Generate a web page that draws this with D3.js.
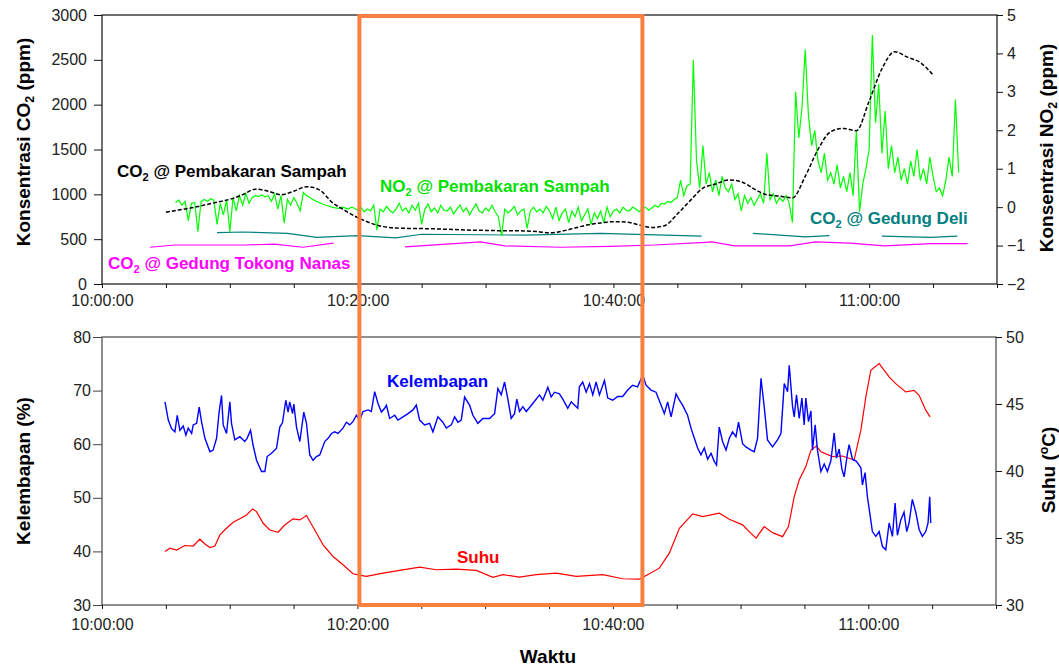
<!DOCTYPE html>
<html><head><meta charset="utf-8">
<script src="https://cdn.jsdelivr.net/npm/d3@7/dist/d3.min.js"></script>
<style>body{margin:0;background:#fff}text{font-family:"Liberation Sans",Arial,sans-serif}</style>
</head><body>
<svg id="c" width="1059" height="668"></svg>
<script>
// ---------------- DATA ----------------
const timeTicks = ["10:00:00", "10:20:00", "10:40:00", "11:00:00"];
const timeDomain = ["10:00:00", "11:10:00"];
const highlight = ["10:20:08", "10:42:16"];
const co2Ticks = [0, 500, 1000, 1500, 2000, 2500, 3000];
const no2Ticks = [-2, -1, 0, 1, 2, 3, 4, 5];
const humTicks = [30, 40, 50, 60, 70, 80];
const tempTicks = [30, 35, 40, 45, 50];

// CO2 @ Pembakaran Sampah (ppm), one reading per minute from 10:05
const co2BurnStart = 5, co2BurnStep = 1;
const co2Burn = [800, 825, 850, 880, 912, 945, 995, 1058, 1035, 995, 1035, 1085, 1050, 910, 820, 740,
  680, 640, 625, 620, 618, 615, 610, 605, 600, 598, 595, 595, 592, 585, 570, 590, 625, 660, 680, 695,
  690, 660, 630, 650, 780, 930, 1070, 1115, 1160, 1140, 1060, 995, 980, 960, 1200, 1500, 1700, 1735,
  1710, 2040, 2400, 2590, 2530, 2470, 2330];

// NO2 @ Pembakaran Sampah (ppm), every 15 s from 10:05:45
const no2Start = 5.75, no2Step = 0.25;
const no2Burn = [0.12,
  0.18, 0.05, 0.15, -0.35, 0.1, 0.12, -0.64, 0.15, 0.2, 0.15, 0.22, 0.18, -0.45, 0.1, -0.2, 0.2,
  -0.64, 0.25, -0.1, 0.3, 0.05, 0.36, 0.1, 0.25, 0.3, 0.28, 0.32, 0.27, 0.3, 0.15, 0.35, -0.05,
  0.3, -0.42, 0.2, 0.05, 0.25, 0.1, -0.1, 0.38, 0.3, 0.25, 0.2, 0.15, 0.12, 0.08, 0.05, 0.03,
  0.0, -0.02, -0.03, 0.0, -0.02, -0.05, 0.0, -0.03, -0.08, 0.0, -0.12, -0.05, -0.1, 0.05, -0.6, -0.05,
  -0.12, 0.02, -0.08, -0.15, -0.05, 0.1, -0.1, -0.02, -0.15, 0.05, -0.08, 0.1, -0.45, -0.05, 0.08, -0.12,
  -0.02, -0.15, 0.05, -0.08, -0.1, 0.0, -0.18, -0.05, 0.05, -0.12, -0.02, -0.2, -0.05, 0.08, -0.1, -0.15,
  -0.02, -0.1, 0.05, -0.12, -0.25, -0.75, -0.05, -0.15, -0.08, 0.02, -0.2, -0.1, -0.05, -0.55, -0.1, 0.0,
  -0.12, -0.05, -0.15, 0.02, -0.1, -0.3, 0.0, -0.35, -0.15, -0.05, -0.4, -0.1, -0.25, 0.0, -0.35, -0.2,
  -0.05, -0.45, -0.15, -0.3, -0.1, -0.4, 0.0, -0.25, -0.1, -0.05, -0.15, 0.0, -0.08, -0.1, 0.0, -0.05,
  -0.12, -0.05, 0.0, -0.08, -0.02, 0.05, 0.0, 0.1, 0.08, 0.15, 0.12, 0.2, 0.25, 0.7, 0.3, 0.55,
  0.6, 3.83, 1.2, 0.5, 1.6, 0.6, 0.9, 0.4, 0.7, 0.3, 0.8, 0.5, 0.4, 0.6, 0.2, 0.35,
  -0.1, 0.3, 0.1, 0.25, 0.05, 0.2, 0.35, 0.1, 1.4, 0.2, 0.35, 0.1, 0.25, 0.15, 0.3, 0.1,
  -0.4, 3.0, 1.8, 2.6, 4.1, 2.4, 1.6, 2.0, 1.2, 0.9, 1.4, 0.7, 0.9, 0.6, 1.1, 0.5,
  0.8, 0.4, 0.9, 0.3, 2.0, -0.12, 0.6, 1.0, 1.5, 4.48, 2.2, 3.2, 1.4, 2.5, 1.0, 1.6,
  0.9, 1.3, 0.7, 1.0, 0.6, 1.2, 0.8, 1.5, 0.7, 1.0, 0.6, 1.3, 0.8, 0.4, 0.5, 0.3,
  0.7, 1.3, 0.8, 2.8, 0.9];

// CO2 @ Gedung Deli (ppm): [minute after 10:00, ppm], null = gap
const co2Deli = [[9.0, 573], [11.0, 580], [14.5, 565], [16.8, 521], [20.0, 539], [23.0, 515], [25.0, 555],
  [33.0, 545], [39.0, 565], [46.9, 535], null, [50.9, 565], [55.0, 525], [56.9, 540], null,
  [61.0, 535], [64.8, 520], [66.9, 535]];

// CO2 @ Gedung Tokong Nanas (ppm)
const co2Nanas = [[3.75, 410], [5.7, 435], [11.2, 435], [13.5, 445], [15.7, 410], [18.1, 455], null,
  [23.7, 415], [29.6, 470], [31.5, 425], [35.8, 410], [39.7, 420], [43.2, 435], [47.2, 465], [47.7, 470],
  [49.5, 425], [53.8, 425], [55.8, 470], [58.5, 455], [61.2, 425], [64.8, 450], [67.7, 450]];

// Kelembapan (%): [minute after 10:00, %]
const humidity = [[4.93,67.9],[5.19,64.5],[5.45,62.9],[5.71,62.3],[5.89,65.4],[6.10,62.6],[6.36,63.4],[6.57,61.7],[6.75,63.0],[7.02,62.0],[7.14,63.6],[7.41,63.9],[7.61,66.9],[7.80,64.1],[8.06,61.1],[8.45,58.6],[8.70,58.9],[8.97,61.1],[9.17,66.0],[9.36,69.1],[9.49,63.6],[9.75,62.0],[10.01,67.9],[10.14,63.9],[10.40,60.8],[10.79,61.4],[11.18,60.5],[11.36,61.1],[11.63,62.6],[11.83,59.8],[12.10,57.0],[12.49,54.9],[12.75,54.9],[12.93,57.7],[13.27,58.3],[13.66,59.2],[13.92,63.2],[14.13,64.0],[14.39,68.2],[14.57,66.0],[14.70,67.9],[14.92,65.7],[15.02,67.5],[15.23,63.2],[15.49,60.5],[15.80,66.0],[16.01,63.9],[16.27,58.0],[16.53,57.0],[16.79,57.7],[17.05,58.0],[17.44,60.5],[17.70,61.1],[17.97,62.0],[18.22,62.3],[18.48,62.0],[18.87,63.0],[19.14,64.1],[19.40,63.6],[19.65,64.2],[19.92,65.4],[20.18,64.5],[20.44,66.1],[20.83,66.4],[21.09,66.1],[21.35,69.8],[21.61,67.6],[21.88,66.0],[22.13,66.7],[22.27,67.3],[22.52,64.8],[22.92,65.4],[23.17,64.5],[23.57,65.1],[23.96,65.7],[24.35,66.4],[24.61,67.3],[24.87,64.5],[25.26,63.6],[25.65,63.9],[25.91,62.3],[26.30,65.1],[26.69,64.1],[26.96,63.0],[27.35,63.6],[27.61,65.1],[27.87,64.1],[28.13,64.5],[28.39,68.8],[28.78,67.3],[29.04,65.4],[29.43,63.9],[29.82,64.8],[30.35,64.8],[30.74,65.7],[31.00,70.4],[31.26,69.2],[31.52,71.6],[31.78,68.4],[32.04,64.8],[32.30,65.7],[32.48,68.4],[32.69,66.1],[32.95,67.0],[33.22,66.1],[33.73,67.6],[34.26,69.2],[34.52,68.2],[34.91,70.6],[35.17,68.8],[35.43,69.7],[35.82,69.4],[36.08,68.4],[36.47,66.7],[36.74,67.9],[36.99,67.3],[37.25,66.7],[37.38,70.7],[37.64,71.6],[37.91,69.7],[38.17,71.3],[38.43,69.2],[38.69,71.6],[38.95,69.2],[39.34,71.9],[39.60,68.6],[39.99,68.2],[40.38,68.9],[40.77,68.9],[41.16,70.1],[41.55,71.0],[41.94,70.7],[42.34,72.9],[42.60,71.0],[42.99,70.1],[43.38,69.7],[43.77,67.3],[44.03,65.7],[44.29,67.9],[44.56,65.1],[44.95,69.4],[45.21,68.2],[45.46,67.3],[45.85,65.4],[46.12,63.0],[46.38,61.1],[46.64,59.3],[46.90,58.0],[47.16,59.3],[47.42,57.2],[47.69,58.3],[47.94,56.8],[48.12,56.1],[48.33,63.2],[48.59,60.5],[48.86,58.9],[49.12,61.1],[49.37,62.3],[49.64,61.4],[49.84,64.1],[50.16,60.1],[50.42,59.5],[50.81,58.9],[51.07,58.6],[51.33,61.1],[51.60,72.3],[51.85,67.0],[52.11,60.8],[52.50,59.5],[52.89,60.8],[53.16,62.0],[53.42,71.3],[53.68,69.8],[53.81,74.7],[54.07,67.0],[54.20,65.1],[54.38,69.2],[54.59,64.8],[54.80,68.6],[54.98,63.6],[55.11,68.6],[55.32,64.2],[55.51,66.2],[55.63,58.9],[55.84,63.6],[56.02,58.9],[56.29,54.9],[56.55,56.3],[56.80,54.9],[57.07,56.9],[57.33,62.1],[57.51,57.4],[57.72,59.1],[57.93,55.4],[58.11,53.9],[58.37,58.3],[58.50,59.9],[58.76,57.2],[59.07,56.8],[59.42,55.6],[59.54,52.4],[59.75,54.7],[59.93,50.2],[60.12,47.1],[60.32,43.7],[60.59,42.8],[60.85,43.7],[61.11,40.9],[61.37,40.3],[61.63,45.3],[61.89,42.8],[62.10,49.0],[62.28,43.0],[62.54,45.8],[62.80,47.3],[63.01,43.7],[63.19,45.3],[63.45,49.7],[63.72,47.3],[63.98,44.1],[64.23,42.8],[64.50,43.7],[64.68,45.3],[64.81,50.2],[64.89,45.3]];

// Suhu (°C): [minute after 10:00, °C]
const temperature = [[4.93,34.0],[5.32,34.24],[5.84,34.1],[6.49,34.44],[7.14,34.4],[7.66,34.91],[8.06,34.55],[8.45,34.29],[8.84,34.4],[9.23,35.23],[9.75,35.73],[10.27,36.18],[10.79,36.43],[11.32,36.72],[11.79,37.17],[12.10,36.97],[12.62,36.1],[13.14,35.6],[13.79,35.43],[14.31,35.97],[14.96,36.43],[15.49,36.35],[16.01,36.68],[16.66,35.6],[17.31,34.49],[18.09,33.62],[18.87,33.0],[19.65,32.33],[20.05,32.25],[20.70,32.13],[22.00,32.38],[23.31,32.58],[24.87,32.83],[26.18,32.63],[27.74,32.68],[29.31,32.58],[30.60,32.06],[31.39,32.26],[32.69,32.08],[34.00,32.26],[35.56,32.38],[37.13,32.13],[39.21,32.26],[40.77,31.96],[42.08,31.93],[42.86,32.33],[43.64,32.75],[44.42,33.87],[45.21,35.73],[46.25,36.8],[47.03,36.6],[48.33,36.85],[49.12,36.4],[50.16,35.98],[50.68,35.48],[51.21,34.99],[51.85,35.85],[52.50,35.4],[53.29,35.1],[53.75,35.85],[54.20,38.09],[54.59,39.33],[55.11,40.33],[55.51,41.56],[55.94,41.86],[56.29,41.44],[57.20,41.07],[57.98,41.12],[58.89,40.82],[59.42,43.05],[59.81,45.53],[60.20,47.52],[60.85,48.02],[61.63,47.02],[62.15,46.52],[62.93,45.9],[63.58,46.02],[63.98,45.65],[64.50,44.54],[64.84,44.04]];

// ---------------- CHART ----------------
const svg = d3.select("#c");
const parse = d3.timeParse("%H:%M:%S");
const fmt = d3.timeFormat("%H:%M:%S");
const t0 = parse(timeDomain[0]);
const tm = m => new Date(t0.getTime() + m * 60000);

const pTop = {l: 102, r: 997, t: 15, b: 284};
const pBot = {l: 102, r: 996, t: 337, b: 605};

const xTop = d3.scaleTime().domain(timeDomain.map(parse)).range([pTop.l, pTop.r]);
const xBot = d3.scaleTime().domain(timeDomain.map(parse)).range([pBot.l, pBot.r]);
const yCO2 = d3.scaleLinear().domain([0, 3000]).range([pTop.b, pTop.t]);
const yNO2 = d3.scaleLinear().domain([-2, 5]).range([pTop.b, pTop.t]);
const yHum = d3.scaleLinear().domain([30, 80]).range([pBot.b, pBot.t]);
const yTmp = d3.scaleLinear().domain([30, 50]).range([pBot.b, pBot.t]);

const minorTicks = d3.timeMinute.every(5).range(parse(timeDomain[0]), new Date(parse(timeDomain[1]).getTime() + 1000));
const xFmt = d => timeTicks.includes(fmt(d)) ? fmt(d) : "";
const intFmt = d3.format("d");

function styleAxis(g, col) {
  g.select(".domain").remove();
  g.selectAll("line").attr("stroke", col);
  g.selectAll("text").attr("fill", "#222").style("font-size", "16px");
}

// frames
svg.append("rect").attr("x", pTop.l).attr("y", pTop.t).attr("width", pTop.r - pTop.l).attr("height", pTop.b - pTop.t)
  .attr("fill", "none").attr("stroke", "#111").attr("stroke-width", 1.2);
svg.append("rect").attr("x", pBot.l).attr("y", pBot.t).attr("width", pBot.r - pBot.l).attr("height", pBot.b - pBot.t)
  .attr("fill", "none").attr("stroke", "#444").attr("stroke-width", 1.2);

// axes top panel
svg.append("g").attr("transform", `translate(0,${pTop.b})`)
  .call(d3.axisBottom(xTop).tickValues(minorTicks).tickFormat(xFmt).tickSize(4).tickPadding(7))
  .call(g => styleAxis(g, "#111"));
svg.append("g").attr("transform", `translate(${pTop.l},0)`)
  .call(d3.axisLeft(yCO2).tickValues(co2Ticks).tickFormat(intFmt).tickSize(8).tickPadding(7))
  .call(g => styleAxis(g, "#111"));
svg.append("g").attr("transform", `translate(${pTop.r},0)`)
  .call(d3.axisRight(yNO2).tickValues(no2Ticks).tickFormat(intFmt).tickSize(6).tickPadding(4))
  .call(g => styleAxis(g, "#111"));
// axes bottom panel
svg.append("g").attr("transform", `translate(0,${pBot.b})`)
  .call(d3.axisBottom(xBot).tickValues(minorTicks).tickFormat(xFmt).tickSize(4).tickPadding(10))
  .call(g => styleAxis(g, "#111"));
svg.append("g").attr("transform", `translate(${pBot.l},0)`)
  .call(d3.axisLeft(yHum).tickValues(humTicks).tickFormat(intFmt).tickSize(9).tickPadding(2))
  .call(g => styleAxis(g, "#444"));
svg.append("g").attr("transform", `translate(${pBot.r},0)`)
  .call(d3.axisRight(yTmp).tickValues(tempTicks).tickFormat(intFmt).tickSize(6).tickPadding(4))
  .call(g => styleAxis(g, "#111"));

// series top
const lineCO2 = d3.line().defined(d => d).x(d => xTop(tm(d[0]))).y(d => yCO2(d[1]));
svg.append("path").datum(co2Nanas).attr("d", lineCO2).attr("fill", "none").attr("stroke", "#ff00ff").attr("stroke-width", 1.2);
svg.append("path").datum(co2Deli).attr("d", lineCO2).attr("fill", "none").attr("stroke", "#008080").attr("stroke-width", 1.2);
svg.append("path").datum(no2Burn.map((v, i) => [no2Start + i * no2Step, v]))
  .attr("d", d3.line().x(d => xTop(tm(d[0]))).y(d => yNO2(d[1])))
  .attr("fill", "none").attr("stroke", "#00ff00").attr("stroke-width", 1.2);
svg.append("path").datum(co2Burn.map((v, i) => [co2BurnStart + i * co2BurnStep, v]))
  .attr("d", d3.line().x(d => xTop(tm(d[0]))).y(d => yCO2(d[1])).curve(d3.curveMonotoneX))
  .attr("fill", "none").attr("stroke", "#000")
  .attr("stroke-width", 1.5).attr("stroke-dasharray", "4,2");

// series bottom
svg.append("path").datum(temperature)
  .attr("d", d3.line().x(d => xBot(tm(d[0]))).y(d => yTmp(d[1])))
  .attr("fill", "none").attr("stroke", "#ff0000").attr("stroke-width", 1.2);
svg.append("path").datum(humidity)
  .attr("d", d3.line().x(d => xBot(tm(d[0]))).y(d => yHum(d[1])))
  .attr("fill", "none").attr("stroke", "#0000ff").attr("stroke-width", 1.4);

// highlight box
const hx0 = xTop(parse(highlight[0])), hx1 = xTop(parse(highlight[1]));
svg.append("rect").attr("x", hx0).attr("y", pTop.t + 1).attr("width", hx1 - hx0).attr("height", pBot.b - pTop.t - 1)
  .attr("fill", "none").attr("stroke", "#fb8040").attr("stroke-width", 4);

// labels with subscript
function label(x, y, parts, color, size) {
  const t = svg.append("text").attr("x", x).attr("y", y).attr("fill", color)
    .style("font-size", size + "px").style("font-weight", "bold");
  parts.forEach(p => {
    if (p.sub) t.append("tspan").attr("dy", 4).style("font-size", (size * 0.65) + "px").text(p.sub);
    else if (p.sup) t.append("tspan").attr("dy", -7).style("font-size", (size * 0.65) + "px").text(p.sup);
    else t.append("tspan").attr("dy", p.dy || 0).text(p.t);
  });
  return t;
}
label(117, 177, [{t: "CO"}, {sub: "2"}, {t: " @ Pembakaran Sampah", dy: -4}], "#000", 17);
label(380, 192, [{t: "NO"}, {sub: "2"}, {t: " @ Pembakaran Sampah", dy: -4}], "#00e000", 17);
label(810, 224, [{t: "CO"}, {sub: "2"}, {t: " @ Gedung Deli", dy: -4}], "#008080", 17);
label(108, 269, [{t: "CO"}, {sub: "2"}, {t: " @ Gedung Tokong Nanas", dy: -4}], "#ff00ff", 17);
label(387, 387, [{t: "Kelembapan"}], "#0000ff", 17);
label(457, 563, [{t: "Suhu"}], "#ff0000", 17);

// axis titles
function vtitle(x, y, parts) {
  return label(0, 0, parts, "#000", 19).attr("text-anchor", "middle")
    .attr("transform", `translate(${x},${y}) rotate(-90)`);
}
vtitle(30, 142, [{t: "Konsentrasi CO"}, {sub: "2"}, {t: " (ppm)", dy: -4}]);
vtitle(1053, 148, [{t: "Konsentrasi NO"}, {sub: "2"}, {t: " (ppm)", dy: -4}]);
vtitle(30, 471, [{t: "Kelembapan (%)"}]);
vtitle(1055, 470, [{t: "Suhu ("}, {sup: "o"}, {t: "C)", dy: 7}]);
label(548, 663, [{t: "Waktu"}], "#000", 19).attr("text-anchor", "middle");
</script>
</body></html>
